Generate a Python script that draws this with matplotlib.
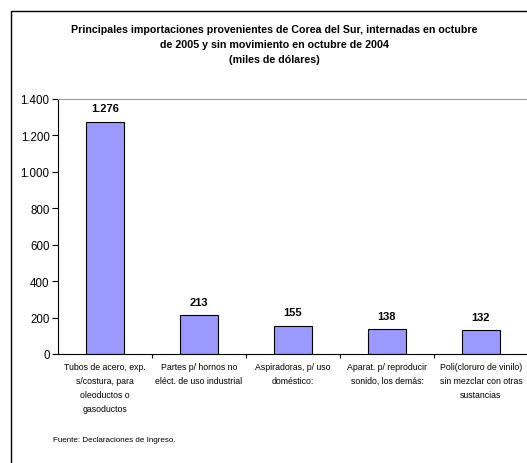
import matplotlib
matplotlib.use("Agg")
import matplotlib.pyplot as plt
from matplotlib.patches import Rectangle
from matplotlib.ticker import FixedLocator, FuncFormatter

plt.rcParams["font.family"] = ["Liberation Sans", "DejaVu Sans"]

# datos
categorias = [
    "Tubos de acero, exp.\ns/costura, para\noleoductos o\ngasoductos",
    "Partes p/ hornos no\neléct. de uso industrial",
    "Aspiradoras, p/ uso\ndoméstico:",
    "Aparat. p/ reproducir\nsonido, los demás:",
    "Poli(cloruro de vinilo)\nsin mezclar con otras\nsustancias",
]
valores = [1276, 213, 155, 138, 132]
y_ticks = [0, 200, 400, 600, 800, 1000, 1200, 1400]

TITULO = ("Principales importaciones provenientes de Corea del Sur, internadas en octubre\n"
          "de 2005 y sin movimiento en octubre de 2004\n"
          "(miles de dólares)")
FUENTE = "Fuente: Declaraciones de Ingreso."

W, H = 527, 464
fig = plt.figure(figsize=(W / 100, H / 100), dpi=100)

# marco exterior del gráfico
fig.patches.append(Rectangle((11 / W, -0.1), 2, 1 - 12 / H + 0.1,
                             transform=fig.transFigure, fill=False,
                             edgecolor="black", lw=1.0))

ax = fig.add_axes([58 / W, 1 - 355 / H, (528 - 58) / W, (355 - 100) / H])
x = list(range(len(valores)))
ax.bar(x, valores, width=0.4, color="#9999FF", edgecolor="black", lw=0.8)

for xi, v in zip(x, valores):
    ax.annotate(f"{v:,}".replace(",", "."), (xi, v), xytext=(0, 6),
                textcoords="offset points", ha="center", va="bottom",
                fontsize=8, fontweight="bold")

ax.set_xlim(-0.5, len(valores) - 0.5)
ax.set_ylim(0, 1400)
ax.set_yticks(y_ticks)
ax.yaxis.set_major_formatter(FuncFormatter(lambda v, _: f"{int(v):,}".replace(",", ".")))
ax.tick_params(axis="y", labelsize=8.3, length=4, width=0.8, pad=2)

ax.set_xticks(x)
ax.set_xticklabels(categorias, fontsize=6.3, linespacing=1.7)
ax.tick_params(axis="x", which="major", length=0, pad=6)
ax.xaxis.set_minor_locator(FixedLocator([i + 0.5 for i in x]))
ax.tick_params(axis="x", which="minor", length=3, width=0.8)

for s in ("top", "right"):
    ax.spines[s].set_color("#999999")
ax.spines["left"].set_linewidth(0.8)
ax.spines["bottom"].set_linewidth(0.8)

fig.text(274 / W, 1 - 25 / H, TITULO, ha="center", va="top", fontsize=7.7,
         fontweight="bold", linespacing=1.65)
fig.text(53 / W, 1 - 441 / H, FUENTE, ha="left", va="center", fontsize=5.8)

fig.savefig("out.png", dpi=100)
